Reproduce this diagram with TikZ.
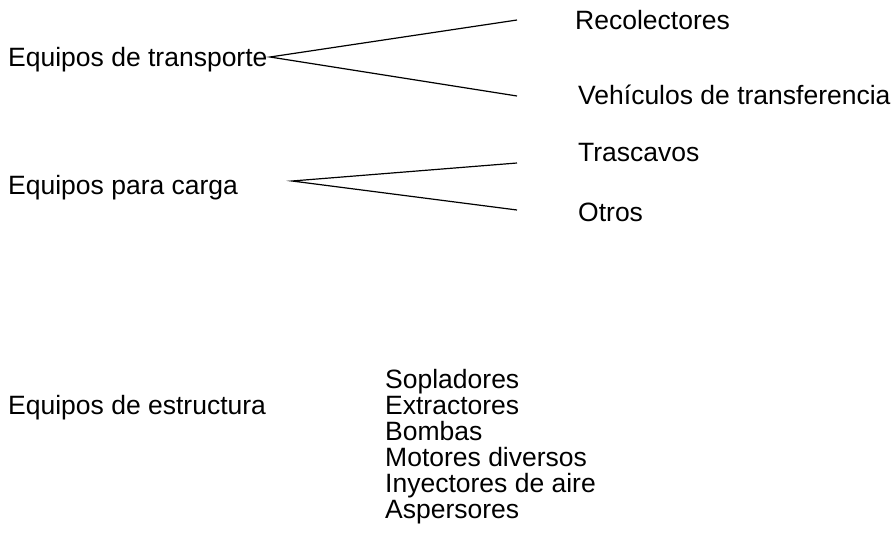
\documentclass[tikz,border=0pt]{standalone}
\usepackage{fontspec}
\setmainfont{Liberation Sans}
\usepackage{tikz}
\usetikzlibrary{positioning, calc}

\tikzset{
  lbl/.style={anchor=base west, inner sep=0pt, font=\fontsize{26.5}{26.5}\selectfont},
  brace/.style={line width=1.2pt, black},
}

\begin{document}
\begin{tikzpicture}[x=1pt, y=-1pt]
\useasboundingbox (0,0) rectangle (892,546);

% --- Equipos de transporte ---
\node[lbl] (trans) at (8, 66) {Equipos de transporte};
\node[lbl] (recol) at (575, 29) {Recolectores};
\node[lbl] (vehic) at (578, 104) {Vehículos de transferencia};
\coordinate (transfork) at (270, 57);
\coordinate (recolend) at (517, 20);
\coordinate (vehicend) at (517, 96);
\draw[brace] (recolend) -- (transfork) -- (vehicend);

% --- Equipos para carga ---
\node[lbl] (carga) at (8, 194) {Equipos para carga};
\node[lbl] (trasc) at (578, 161) {Trascavos};
\node[lbl] (otros) at (578, 221) {Otros};
\coordinate (cargafork) at (292, 181);
\coordinate (trascend) at (517, 163);
\coordinate (otrosend) at (517, 210);
\draw[brace] (trascend) -- (cargafork) -- (otrosend);

% --- Equipos de estructura ---
\node[lbl] (estruc) at (8, 414) {Equipos de estructura};
\foreach \item [count=\i] in {Sopladores, Extractores, Bombas, Motores diversos, Inyectores de aire, Aspersores}
  \node[lbl] (item\i) at (385, 362 + 26*\i) {\item};

\end{tikzpicture}
\end{document}
